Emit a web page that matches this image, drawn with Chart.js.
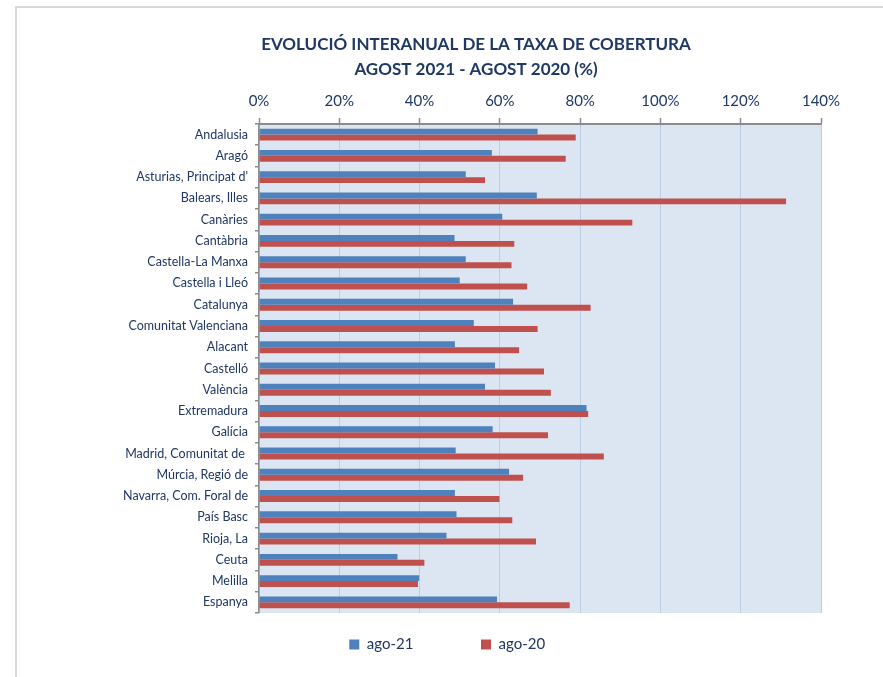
<!DOCTYPE html>
<html>
<head>
<meta charset="utf-8">
<script src="https://cdn.jsdelivr.net/npm/chart.js@4.4.0/dist/chart.umd.min.js"></script>
<style>
html,body{margin:0;padding:0;background:#fff;}
#wrap{position:relative;width:883px;height:677px;overflow:hidden;}
#frame{position:absolute;left:15px;top:6px;right:0;bottom:0;border-top:2px solid #d9d9d9;border-left:2px solid #d9d9d9;pointer-events:none;}
canvas{position:absolute;left:0;top:0;}
</style>
</head>
<body>
<div id="wrap"><canvas id="c" width="883" height="677"></canvas><div id="frame"></div></div>
<script>
const titleLines = ['EVOLUCIÓ INTERANUAL DE LA TAXA DE COBERTURA', 'AGOST 2021 - AGOST 2020 (%)'];
const categories = [
  'Andalusia', 'Aragó', "Asturias, Principat d'", 'Balears, Illes', 'Canàries', 'Cantàbria',
  'Castella-La Manxa', 'Castella i Lleó', 'Catalunya', 'Comunitat Valenciana', 'Alacant', 'Castelló',
  'València', 'Extremadura', 'Galícia', 'Madrid, Comunitat de ', 'Múrcia, Regió de',
  'Navarra, Com. Foral de', 'País Basc', 'Rioja, La', 'Ceuta', 'Melilla', 'Espanya'
];
const seriesNames = ['ago-21', 'ago-20'];
const ago21 = [69.4, 58.0, 51.5, 69.2, 60.6, 48.7, 51.5, 50.0, 63.3, 53.5, 48.8, 58.8,
               56.3, 81.6, 58.2, 49.0, 62.3, 48.8, 49.2, 46.7, 34.5, 39.9, 59.3];
const ago20 = [78.9, 76.4, 56.3, 131.3, 93.0, 63.6, 62.9, 66.8, 82.6, 69.4, 64.8, 71.0,
               72.7, 82.0, 72.0, 85.9, 65.8, 59.9, 63.1, 69.0, 41.2, 39.6, 77.4];
const xTickValues = [0, 20, 40, 60, 80, 100, 120, 140];

const NAVY = '#1F3864';
const FONT = 'Lato, "Open Sans", "DejaVu Sans", sans-serif';

// pad legend labels with non-breaking spaces to reproduce the wide spacing
const mctx = document.createElement('canvas').getContext('2d');
mctx.font = '15px ' + FONT;
function padTo(text, px) {
  let t = text;
  let guard = 0;
  while (mctx.measureText(t).width < px && guard++ < 200) t += '\u00A0';
  return t;
}
const legendTextWidths = [101, 103];

const bgPlugin = {
  id: 'plotBg',
  beforeDraw(chart) {
    const {ctx, chartArea: a} = chart;
    ctx.save();
    ctx.fillStyle = '#DCE6F2';
    ctx.fillRect(a.left, a.top, a.right - a.left, a.bottom - a.top);
    ctx.restore();
  }
};

new Chart(document.getElementById('c'), {
  type: 'bar',
  data: {
    labels: categories,
    datasets: [
      { label: seriesNames[0], data: ago21, backgroundColor: '#4F81BD', borderWidth: 0 },
      { label: seriesNames[1], data: ago20, backgroundColor: '#C0504D', borderWidth: 0 }
    ]
  },
  options: {
    indexAxis: 'y',
    responsive: false,
    animation: false,
    devicePixelRatio: 1,
    categoryPercentage: 0.56,
    barPercentage: 1.0,
    layout: { padding: { left: 110, right: 41, top: 0, bottom: 15 } },
    scales: {
      x: {
        position: 'top',
        min: 0, max: 140,
        afterBuildTicks(scale) { scale.ticks = xTickValues.map(v => ({ value: v })); },
        afterFit(scale) { scale.height = 32; },
        ticks: {
          callback: v => v + '%',
          color: NAVY,
          padding: 8,
          font: { family: FONT, size: 15 }
        },
        grid: { color: '#B9CDE5', lineWidth: 1, tickColor: '#8C8C8C', tickLength: 6, tickWidth: 1.5 },
        border: { color: '#8C8C8C', width: 2 }
      },
      y: {
        afterFit(scale) { scale.width = 149; },
        ticks: {
          color: NAVY,
          padding: 7,
          font: { family: FONT, size: 12.5 }
        },
        grid: { drawOnChartArea: false, color: '#8C8C8C', tickLength: 4, lineWidth: 1.5 },
        border: { color: '#8C8C8C', width: 1.5 }
      },
      ySpacer: {
        type: 'category',
        position: 'right',
        display: true,
        ticks: { display: false },
        grid: { display: false },
        border: { display: false },
        afterFit(scale) { scale.width = 21; }
      }
    },
    plugins: {
      title: {
        display: true,
        text: titleLines,
        color: NAVY,
        font: { family: FONT, size: 17, weight: 'bold', lineHeight: 1.47 },
        padding: { top: 32, bottom: 10 }
      },
      legend: {
        position: 'bottom',
        title: { display: true, text: '', padding: { top: 13, bottom: 0 }, font: { size: 1, lineHeight: 1 } },
        labels: {
          boxWidth: 10,
          boxHeight: 10,
          padding: 10,
          color: NAVY,
          font: { family: FONT, size: 15 },
          generateLabels(chart) {
            const items = Chart.defaults.plugins.legend.labels.generateLabels(chart);
            items.forEach((it, i) => { it.text = padTo(it.text, legendTextWidths[i]); it.lineWidth = 0; });
            return items;
          }
        }
      },
      tooltip: { enabled: false }
    }
  },
  plugins: [bgPlugin]
});
</script>
</body>
</html>
